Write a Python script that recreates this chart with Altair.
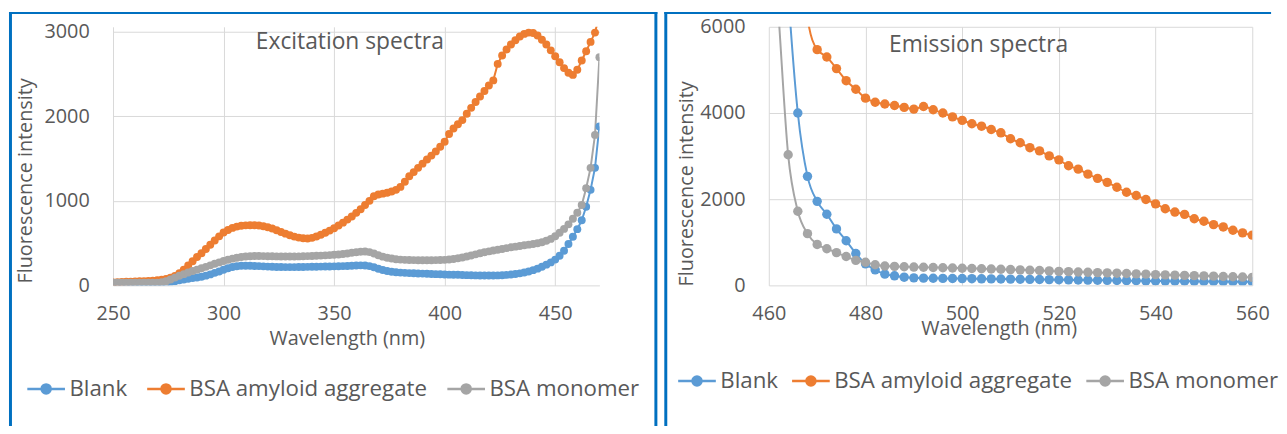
import altair as alt
import pandas as pd

series = ["Blank", "BSA amyloid aggregate", "BSA monomer"]
colors = ["#5B9BD5", "#ED7D31", "#A5A5A5"]

# ---------------- Excitation spectra (250-470 nm, 2 nm steps) ----------------
ex_wl = list(range(250, 471, 2))
ex_blank = [20, 20, 20, 20, 20, 20, 20, 20, 20, 20, 20,
            22, 28, 36, 48, 60, 70, 78, 86, 94, 102,
            115, 130, 148, 165, 185, 203, 218, 227, 232, 233,
            232, 230, 228, 225, 222, 220, 218, 217, 216, 216,
            216, 217, 218, 219, 220, 221, 222, 223, 224, 225,
            226, 228, 230, 232, 235, 237, 236, 228, 214, 196,
            181, 169, 161, 155, 151, 148, 145, 143, 141, 139,
            137, 135, 133, 131, 129, 127, 126, 125, 123, 121,
            120, 118, 117, 116, 116, 117, 118, 120, 124, 128,
            134, 142, 152, 165, 180, 198, 220, 245, 272, 305,
            350, 410, 490, 575, 665, 770, 930, 1130, 1390, 1880]
ex_amyloid = [35, 38, 40, 42, 44, 46, 48, 50, 52, 56, 62,
              68, 76, 90, 112, 145, 185, 235, 285, 335, 380,
              430, 480, 530, 580, 625, 655, 680, 695, 705, 710,
              712, 712, 708, 700, 688, 672, 652, 632, 612, 593,
              577, 565, 557, 555, 562, 578, 598, 622, 648, 675,
              708, 742, 778, 815, 858, 900, 950, 1000, 1055, 1075,
              1085, 1095, 1110, 1130, 1165, 1225, 1290, 1340, 1390, 1440,
              1490, 1535, 1585, 1640, 1700, 1790, 1855, 1905, 1955, 2030,
              2100, 2170, 2235, 2300, 2365, 2425, 2620, 2720, 2790, 2850,
              2900, 2945, 2975, 2990, 2985, 2955, 2905, 2850, 2780, 2710,
              2640, 2570, 2515, 2490, 2550, 2660, 2770, 2880, 2990, 3200]
ex_monomer = [30, 30, 30, 30, 30, 30, 30, 30, 30, 30, 30,
              36, 50, 70, 92, 113, 133, 152, 170, 186, 202,
              219, 237, 255, 272, 289, 303, 316, 327, 335, 341,
              345, 347, 347, 346, 345, 344, 343, 342, 341, 341,
              342, 343, 344, 346, 348, 350, 352, 355, 358, 362,
              366, 372, 378, 385, 392, 398, 400, 393, 377, 357,
              340, 327, 317, 310, 305, 302, 300, 299, 298, 298,
              298, 298, 299, 300, 302, 306, 312, 320, 330, 341,
              354, 367, 379, 391, 402, 412, 421, 431, 441, 450,
              458, 466, 474, 482, 490, 499, 511, 528, 550, 582,
              622, 668, 722, 788, 860, 950, 1150, 1390, 1780, 2700]

# ---------------- Emission spectra (460-560 nm, 2 nm steps) ----------------
em_wl = list(range(460, 561, 2))
em_blank = [16000, 10500, 6800, 4000, 2530, 1950, 1650, 1310, 1035, 740,
            500, 360, 260, 222, 190, 175, 168, 165, 162, 160,
            158, 155, 152, 150, 147, 145, 142, 140, 137, 134,
            131, 128, 125, 122, 119, 116, 113, 110, 107, 104,
            101, 99, 97, 95, 93, 91, 89, 87, 85, 83, 81]
em_amyloid = [16000, 14000, 12000, 9000, 6200, 5470, 5300, 5030, 4750, 4550,
              4345, 4250, 4210, 4175, 4130, 4090, 4150, 4075, 4000, 3910,
              3830, 3750, 3694, 3616, 3540, 3402, 3310, 3195, 3120, 3005,
              2913, 2775, 2697, 2582, 2483, 2391, 2276, 2161, 2085, 1993,
              1892, 1777, 1701, 1648, 1547, 1487, 1409, 1356, 1280, 1218, 1166]
em_monomer = [9500, 6300, 3030, 1720, 1200, 950, 850, 760, 670, 580,
              536, 478, 450, 440, 432, 425, 420, 415, 410, 404,
              398, 392, 386, 380, 374, 367, 360, 352, 344, 336,
              325, 318, 311, 304, 297, 290, 283, 276, 268, 260,
              250, 244, 238, 232, 226, 220, 214, 207, 200, 193, 186]

for arr in (ex_blank, ex_amyloid, ex_monomer):
    assert len(arr) == len(ex_wl), len(arr)
for arr in (em_blank, em_amyloid, em_monomer):
    assert len(arr) == len(em_wl), len(arr)

FONT = "Open Sans"
TXT = "#595959"
GRID = "#D9D9D9"
BORDER = "#0070C0"
LEGEND_PATH = ("M-1,0L1,0M-0.24,0A0.24,0.24,0,1,1,0.24,0"
               "A0.24,0.24,0,1,1,-0.24,0Z")


def long_df(wl, cols):
    rows = []
    for name, vals in zip(series, cols):
        for w, v in zip(wl, vals):
            rows.append({"series": name, "wl": w, "value": v})
    return pd.DataFrame(rows)


def panel(wl, cols, xdom, xticks, ydom, yticks, w, h, title, tx, ty,
          interp, msize, leg_x, leg_y, colpad, ytitle_x, ytitle_y,
          xtitle_x, xtitle_y, borders):
    df = long_df(wl, cols)
    base = alt.Chart(df).encode(
        x=alt.X("wl:Q",
                scale=alt.Scale(domain=xdom, nice=False, zero=False),
                axis=alt.Axis(values=xticks, title="Wavelength (nm)",
                              grid=True, gridColor=GRID, gridWidth=1,
                              domain=False, ticks=False, format="d",
                              labelFlush=False,
                              labelFont=FONT, labelFontSize=20,
                              labelColor=TXT, labelPadding=18,
                              titleFont=FONT, titleFontSize=20,
                              titleFontWeight="normal", titleColor=TXT,
                              titleX=xtitle_x, titleY=xtitle_y,
                              titleAlign="center", titleBaseline="middle")),
        y=alt.Y("value:Q",
                scale=alt.Scale(domain=ydom, nice=False, zero=True),
                axis=alt.Axis(values=yticks, title="Fluorescence intensity",
                              grid=True, gridColor=GRID, gridWidth=1,
                              domain=False, ticks=False, format="d",
                              labelFlush=False,
                              labelFont=FONT, labelFontSize=20,
                              labelColor=TXT, labelPadding=24,
                              titleFont=FONT, titleFontSize=20,
                              titleFontWeight="normal", titleColor=TXT,
                              titleX=ytitle_x, titleY=ytitle_y,
                              titleAngle=270,
                              titleAlign="center", titleBaseline="middle")),
        color=alt.Color("series:N",
                        scale=alt.Scale(domain=series, range=colors),
                        legend=alt.Legend(orient="none", legendX=leg_x,
                                          legendY=leg_y,
                                          direction="horizontal",
                                          title=None,
                                          symbolType=LEGEND_PATH,
                                          symbolSize=1444,
                                          symbolStrokeWidth=2.5,
                                          labelFont=FONT, labelFontSize=22.5,
                                          labelColor=TXT, labelOffset=3,
                                          labelLimit=0,
                                          columnPadding=colpad)),
    )
    line = base.mark_line(strokeWidth=2, clip=True, interpolate=interp)
    pts = base.mark_point(filled=True, size=msize, opacity=1, clip=True)
    txt = alt.Chart(pd.DataFrame({"t": [title]})).mark_text(
        font=FONT, fontSize=23, color=TXT, align="center",
        baseline="middle").encode(
        x=alt.datum(tx, type="quantitative"),
        y=alt.datum(ty, type="quantitative"),
        text="t:N")
    layers = [line, pts, txt]
    one = alt.Data(values=[{"k": 1}])
    for (x1, x2, y1, y2, sw) in borders:
        if x2 is None:
            enc = dict(x=alt.value(x1), y=alt.value(y1), y2=alt.value(y2))
        else:
            enc = dict(x=alt.value(x1), x2=alt.value(x2), y=alt.value(y1))
        layers.append(alt.Chart(one).mark_rule(color=BORDER, strokeWidth=sw)
                      .encode(**enc))
    return alt.layer(*layers).properties(width=w, height=h)


# both plot areas share the same top; the excitation axis keeps 3000 at
# the same pixel row as in the reference by extending its domain slightly
PLOT_H = 261
left = panel(ex_wl, [ex_blank, ex_amyloid, ex_monomer],
             [250, 470], [250, 300, 350, 400, 450],
             [0, 3000 * PLOT_H / 256], [0, 1000, 2000, 3000], 491, PLOT_H,
             "Excitation spectra", 357.1, 2882,
             "linear", 64, -88, 345, 14, -88, 155, 236, 54,
             borders=[(-103.5, None, -15, 403, 3),
                      (-105, 549.5, -14, None, 2),
                      (548, None, -15, 403, 3)])

right = panel(em_wl, [em_blank, em_amyloid, em_monomer],
              [460, 560], [460, 480, 500, 520, 540, 560],
              [0, 6000], [0, 2000, 4000, 6000], 488, PLOT_H,
              "Emission spectra", 503.4, 5586,
              "monotone", 90, -93, 337, 8, -83, 158, 232, 44,
              borders=[(-104, None, -15, 403, 3),
                       (-105.5, 507, -14, None, 2)])

chart = alt.hconcat(left, right, spacing=4).resolve_scale(
    color="independent").properties(padding=0).configure_view(stroke=None)

chart.save("out.html", embed_options={"renderer": "svg", "actions": False})
